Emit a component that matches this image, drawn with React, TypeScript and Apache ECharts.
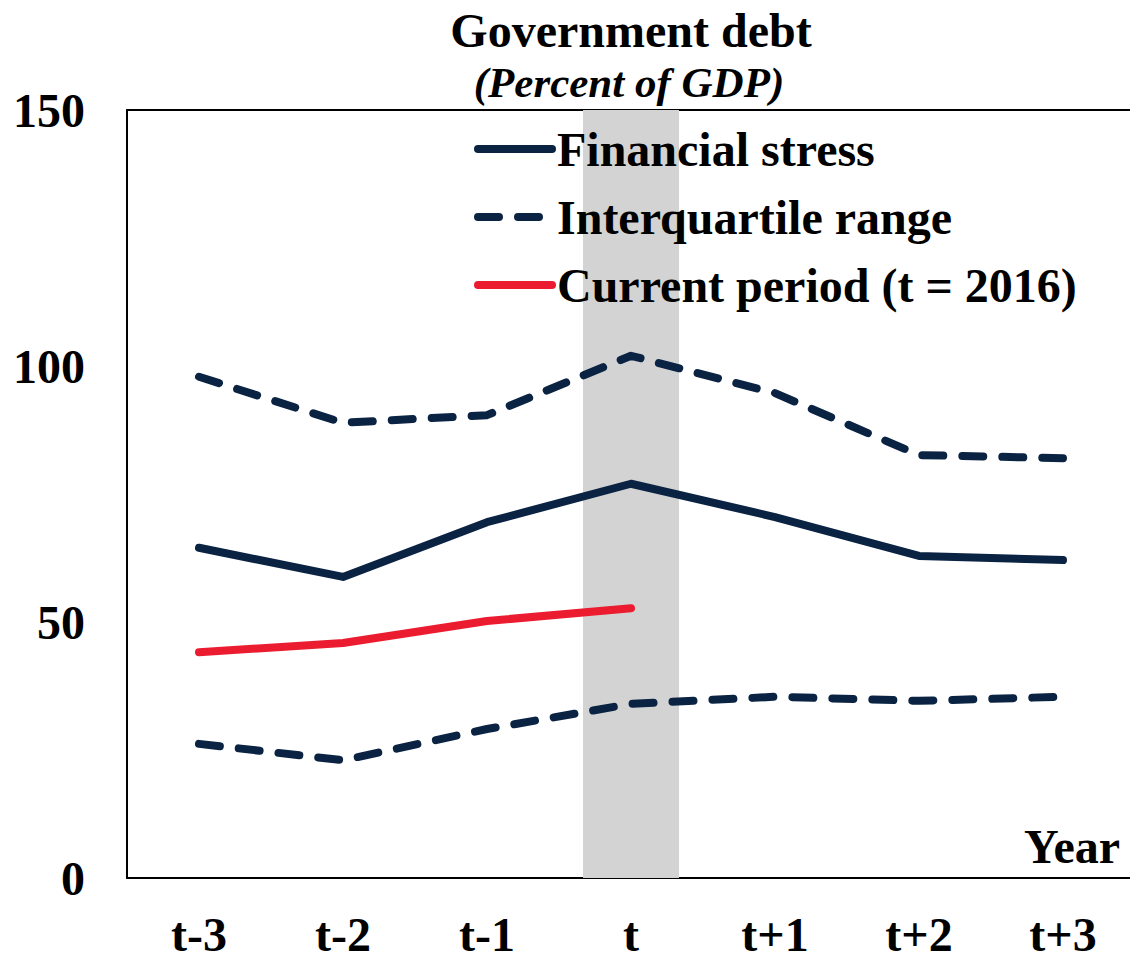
import React, { useEffect, useRef } from "react";
import * as echarts from "echarts";

const categories = ["t-3", "t-2", "t-1", "t", "t+1", "t+2", "t+3"];
const financialStress = [64.5, 58.8, 69.5, 77.0, 70.5, 62.9, 62.1];
const upperQuartile = [97.9, 88.9, 90.4, 102.0, 94.7, 82.6, 82.0];
const lowerQuartile = [26.2, 23.0, 29.1, 34.0, 35.4, 34.6, 35.4];
const currentPeriod = [44.1, 45.9, 50.2, 52.7, null, null, null];
const shadedBand = [null, null, null, 150, null, null, null];
const yTicks = [0, 50, 100, 150];

const NAVY = "#0b2343";
const RED = "#ec1c30";
const FONT = "'Liberation Serif', 'Times New Roman', serif";

export default function App() {
  const ref = useRef<HTMLDivElement>(null);
  useEffect(() => {
    if (!ref.current) return;
    document.body.style.margin = "0";
    document.body.style.overflow = "hidden";
    const chart = echarts.init(ref.current, null, { renderer: "svg" });
    const dashed = {
      color: NAVY,
      width: 8,
      type: [21, 19] as number[],
      cap: "round" as const,
      join: "round" as const,
    };
    chart.setOption({
      animation: false,
      backgroundColor: "#ffffff",
      textStyle: { fontFamily: FONT },
      grid: {
        left: 127,
        right: -5,
        top: 110,
        bottom: 76,
        containLabel: false,
        outerBoundsMode: "none",
      },
      graphic: [
        {
          type: "text",
          x: 631,
          y: 6,
          style: {
            text: "Government debt",
            textAlign: "center",
            font: `bold 48px ${FONT}`,
            fill: "#000",
          },
        },
        {
          type: "text",
          x: 629,
          y: 61,
          style: {
            text: "(Percent of GDP)",
            textAlign: "center",
            font: `italic bold 43px ${FONT}`,
            fill: "#000",
          },
        },
        {
          type: "text",
          x: 1120,
          y: 822,
          style: {
            text: "Year",
            textAlign: "right",
            font: `bold 48px ${FONT}`,
            fill: "#000",
          },
        },
      ],
      legend: {
        orient: "vertical",
        left: 469,
        top: 120,
        itemWidth: 74,
        itemHeight: 14,
        itemGap: 20,
        itemStyle: { color: "rgba(0,0,0,0)", borderWidth: 0 },
        textStyle: { fontFamily: FONT, fontWeight: "bold", fontSize: 48, color: "#000" },
        data: [
          { name: "Financial stress", lineStyle: { width: 8, cap: "round" } },
          { name: "Interquartile range", lineStyle: { width: 8, cap: "round", type: [21, 19] } },
          { name: "Current period (t = 2016)", lineStyle: { width: 8, cap: "round" } },
        ],
      },
      xAxis: [
        {
          type: "category",
          data: categories,
          boundaryGap: true,
          axisLine: { lineStyle: { color: "#000", width: 2 } },
          axisTick: { show: false },
          axisLabel: { margin: 38, fontSize: 48, lineHeight: 36, fontWeight: "bold", color: "#000", fontFamily: FONT },
        },
        {
          type: "category",
          data: categories,
          position: "top",
          axisLine: { show: true, lineStyle: { color: "#000", width: 2 } },
          axisTick: { show: false },
          axisLabel: { show: false },
        },
      ],
      yAxis: {
        type: "value",
        min: yTicks[0],
        max: yTicks[yTicks.length - 1],
        interval: 50,
        axisLine: { show: true, lineStyle: { color: "#000", width: 2 } },
        axisTick: { show: false },
        splitLine: { show: false },
        axisLabel: {
          margin: 42,
          align: "right",
          fontSize: 48,
          fontWeight: "bold",
          color: "#000",
          fontFamily: FONT,
        },
      },
      series: [
        {
          name: "band",
          type: "bar",
          data: shadedBand,
          barWidth: 96,
          itemStyle: { color: "#d3d3d3" },
          silent: true,
          z: 0,
        },
        {
          name: "Interquartile range",
          type: "line",
          data: upperQuartile,
          symbol: "none",
          lineStyle: dashed,
          itemStyle: { color: NAVY },
          z: 3,
        },
        {
          name: "Interquartile range",
          type: "line",
          data: lowerQuartile,
          symbol: "none",
          lineStyle: dashed,
          itemStyle: { color: NAVY },
          z: 3,
        },
        {
          name: "Financial stress",
          type: "line",
          data: financialStress,
          symbol: "none",
          lineStyle: { color: NAVY, width: 8, cap: "round", join: "round" },
          itemStyle: { color: NAVY },
          z: 3,
        },
        {
          name: "Current period (t = 2016)",
          type: "line",
          data: currentPeriod,
          symbol: "none",
          lineStyle: { color: RED, width: 8, cap: "round", join: "round" },
          itemStyle: { color: RED },
          z: 3,
        },
      ],
    });
    return () => chart.dispose();
  }, []);
  return <div ref={ref} style={{ width: 1130, height: 954 }} />;
}
